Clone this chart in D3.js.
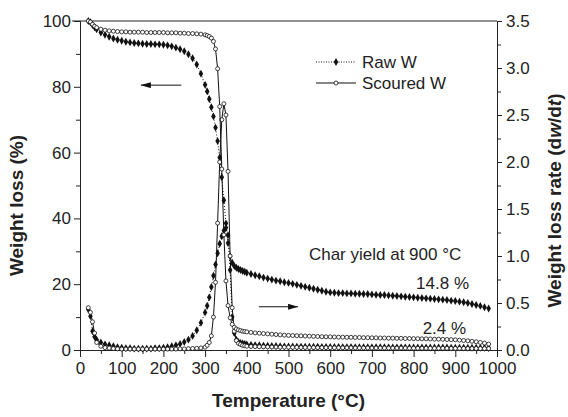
<!DOCTYPE html>
<html lang="en">
  <head>
    <meta charset="UTF-8" />
    <title>TGA - Raw vs Scoured W</title>
    <script src="https://d3js.org/d3.v7.min.js"></script>
    <style>
      body { margin: 0; background: #fff; }
      svg text { font-family: "Liberation Sans", Arial, Helvetica, sans-serif; fill: #222; }
      .axis path, .axis line { stroke: #222; stroke-width: 1; }
      .axis text { font-size: 17px; fill: #222; }
      .title { font-size: 19px; font-weight: bold; }
      .note { font-size: 17px; }
    </style>
  </head>
  <body>
    <svg id="chart" width="568" height="417"></svg>
    <script>
      // temperature grid (°C)
      const temps = [20,25,30,35,40,50,60,70,80,90,100,110,120,130,140,150,160,170,180,190,200,210,220,230,240,250,260,270,280,290,300,305,310,315,320,325,330,335,340,345,350,355,360,365,370,375,380,385,390,395,400,410,420,430,440,450,460,470,480,490,500,510,520,530,540,550,560,570,580,590,600,610,620,630,640,650,660,670,680,690,700,710,720,730,740,750,760,770,780,790,800,810,820,830,840,850,860,870,880,890,900,910,920,930,940,950,960,970,980];

      // weight (%) - left axis
      const rawWeight = [100,99.6,98.8,98.1,97.5,
        96.5,95.8,95.2,94.7,94.3,94.0,93.7,93.5,93.3,93.2,93.1,93.0,93.0,92.9,92.9,92.8,92.6,92.3,91.9,91.4,90.8,89.9,88.7,86.8,84.0,80.6,
        78.6,76.3,73.8,71.0,67.6,63.5,58.5,52.5,45.5,38.5,32.5,28.5,26.5,25.5,25.0,24.6,24.3,24.0,23.8,23.5,
        23.1,22.7,22.4,22.0,21.7,21.4,21.1,20.9,20.6,20.4,20.1,19.8,19.5,19.2,18.9,18.6,18.3,18.0,17.7,17.5,
        17.4,17.3,17.3,17.2,17.2,17.1,17.1,17.0,17.0,16.9,16.8,16.7,16.7,16.6,16.5,16.4,16.3,16.2,16.1,16.0,
        15.9,15.8,15.7,15.6,15.5,15.4,15.3,15.2,15.0,14.9,14.7,14.5,14.3,14.0,13.7,13.4,13.0,12.6];
      const scouredWeight = [100,99.7,99.0,98.4,98.0,
        97.5,97.2,97.0,96.9,96.8,96.7,96.7,96.6,96.6,96.6,96.6,96.5,96.5,96.5,96.5,96.5,96.4,96.4,96.4,96.3,96.3,96.2,96.2,96.1,96.0,95.8,
        95.6,95.3,94.8,93.8,91.5,85.5,74.0,55.0,35.0,21.0,13.5,9.8,7.8,6.9,6.4,6.1,5.9,5.7,5.6,5.5,
        5.35,5.2,5.1,5.0,4.9,4.8,4.7,4.6,4.5,4.45,4.4,4.35,4.3,4.25,4.2,4.15,4.1,4.05,4.0,4.0,
        3.95,3.9,3.9,3.85,3.85,3.8,3.8,3.75,3.75,3.7,3.7,3.65,3.65,3.6,3.6,3.55,3.55,3.5,3.5,3.45,
        3.45,3.4,3.4,3.35,3.3,3.3,3.25,3.2,3.15,3.1,3.0,2.9,2.8,2.65,2.5,2.3,2.1,1.8];

      // weight loss rate (dw/dt) - right axis
      const rawRate = [0.43,0.36,0.2,0.14,0.11,
        0.08,0.06,0.05,0.04,0.03,0.025,0.02,0.02,0.015,0.015,0.015,0.015,0.015,0.02,0.02,0.025,0.03,0.04,0.05,0.065,0.085,0.11,0.15,0.21,0.29,0.40,
        0.47,0.56,0.67,0.79,0.91,1.03,1.13,1.21,1.27,1.30,1.22,0.85,0.35,0.18,0.11,0.085,0.075,0.07,0.065,0.06,
        0.055,0.052,0.05,0.047,0.045,0.043,0.042,0.04,0.039,0.038,0.037,0.036,0.036,0.035,0.035,0.034,0.034,0.033,0.033,0.032,
        0.032,0.032,0.031,0.031,0.031,0.030,0.030,0.030,0.030,0.029,0.029,0.029,0.029,0.028,0.028,0.028,0.028,0.028,0.027,0.027,
        0.027,0.027,0.027,0.026,0.026,0.026,0.026,0.026,0.025,0.025,0.025,0.025,0.024,0.024,0.024,0.023,0.023,0.022];
      const scouredRate = [0.45,0.40,0.30,0.18,0.08,
        0.04,0.025,0.02,0.015,0.012,0.01,0.01,0.01,0.01,0.01,0.01,0.01,0.01,0.01,0.01,0.01,0.01,0.01,0.01,0.012,0.012,0.014,0.016,0.018,0.022,0.03,
        0.05,0.08,0.15,0.35,0.72,1.35,2.0,2.45,2.62,2.5,1.9,1.0,0.45,0.2,0.1,0.07,0.06,0.05,0.045,0.04,
        0.038,0.036,0.035,0.034,0.033,0.032,0.031,0.03,0.03,0.029,0.028,0.028,0.027,0.027,0.026,0.026,0.025,0.025,0.025,0.024,
        0.024,0.024,0.023,0.023,0.023,0.022,0.022,0.022,0.022,0.021,0.021,0.021,0.021,0.020,0.020,0.020,0.020,0.020,0.019,0.019,
        0.019,0.019,0.019,0.018,0.018,0.018,0.018,0.018,0.017,0.017,0.017,0.017,0.016,0.016,0.016,0.015,0.015,0.015];

      const xTicks = [0,100,200,300,400,500,600,700,800,900,1000];
      const yLeftTicks = [0,20,40,60,80,100];
      const yRightTicks = [0,0.5,1.0,1.5,2.0,2.5,3.0,3.5];

      const margin = { top: 21, right: 71, bottom: 67, left: 80 },
        width = 568 - margin.left - margin.right,
        height = 417 - margin.top - margin.bottom;

      const svg = d3
        .select("#chart")
        .append("g")
        .attr("transform", `translate(${margin.left},${margin.top})`);

      const x = d3.scaleLinear().domain([0, 1000]).range([0, width]);
      const yL = d3.scaleLinear().domain([0, 100]).range([height, 0]);
      const yR = d3.scaleLinear().domain([0, 3.5]).range([height, 0]);

      // frame top line
      svg.append("line")
        .attr("x1", -8).attr("x2", width).attr("y1", 0).attr("y2", 0)
        .attr("stroke", "#222");

      // minor ticks
      svg.append("g").attr("class", "axis minor")
        .attr("transform", `translate(0,${height})`)
        .call(d3.axisBottom(x).tickValues(d3.range(50, 1000, 100)).tickSize(4).tickFormat(""));
      svg.append("g").attr("class", "axis minor")
        .call(d3.axisLeft(yL).tickValues(d3.range(10, 100, 20)).tickSize(4).tickFormat(""));
      svg.append("g").attr("class", "axis minor")
        .attr("transform", `translate(${width},0)`)
        .call(d3.axisRight(yR).tickValues([0.25,0.75,1.25,1.75,2.25,2.75,3.25]).tickSize(4).tickFormat(""));

      // main axes
      svg.append("g").attr("class", "axis")
        .attr("transform", `translate(0,${height})`)
        .call(d3.axisBottom(x).tickValues(xTicks).tickSize(7).tickSizeOuter(0).tickPadding(5)
          .tickFormat(d3.format("d")));
      svg.append("g").attr("class", "axis")
        .call(d3.axisLeft(yL).tickValues(yLeftTicks).tickSize(6).tickSizeOuter(0).tickPadding(3));
      svg.append("g").attr("class", "axis")
        .attr("transform", `translate(${width},0)`)
        .call(d3.axisRight(yR).tickValues(yRightTicks).tickSize(5).tickSizeOuter(0).tickPadding(4)
          .tickFormat(d3.format(".1f")));

      // axis titles
      svg.append("text").attr("class", "title")
        .attr("x", width / 2).attr("y", height + 57)
        .attr("text-anchor", "middle")
        .text("Temperature (°C)");
      svg.append("text").attr("class", "title")
        .attr("transform", `translate(${-57},${height / 2 + 20}) rotate(-90)`)
        .attr("text-anchor", "middle")
        .text("Weight loss (%)");
      const rt = svg.append("text").attr("class", "title")
        .attr("transform", `translate(${width + 64},${height / 2 + 15}) rotate(-90)`)
        .attr("text-anchor", "middle");
      rt.append("tspan").text("Weight loss rate (d");
      rt.append("tspan").attr("font-style", "italic").text("w");
      rt.append("tspan").text("/d");
      rt.append("tspan").attr("font-style", "italic").text("t");
      rt.append("tspan").text(")");

      const rows = temps.map((t, i) => ({
        t: t,
        rw: rawWeight[i],
        sw: scouredWeight[i],
        rr: rawRate[i],
        sr: scouredRate[i]
      }));

      const series = [
        { key: "rr", y: yR, raw: true },
        { key: "rw", y: yL, raw: true },
        { key: "sr", y: yR, raw: false },
        { key: "sw", y: yL, raw: false }
      ];

      const diamond = d3.symbol().type(d3.symbolDiamond).size(18);

      series.forEach((s) => {
        const line = d3.line()
          .x((d) => x(d.t))
          .y((d) => s.y(d[s.key]));
        svg.append("path")
          .datum(rows)
          .attr("fill", "none")
          .attr("stroke", "#111")
          .attr("stroke-width", 1)
          .attr("stroke-dasharray", s.raw ? "1,2" : null)
          .attr("d", line);

        if (s.raw) {
          svg.append("g").selectAll("path")
            .data(rows)
            .enter()
            .append("path")
            .attr("transform", (d) => `translate(${x(d.t)},${s.y(d[s.key])})`)
            .attr("d", diamond)
            .attr("fill", "#111");
        } else {
          svg.append("g").selectAll("circle")
            .data(rows)
            .enter()
            .append("circle")
            .attr("cx", (d) => x(d.t))
            .attr("cy", (d) => s.y(d[s.key]))
            .attr("r", 2)
            .attr("fill", "#fff")
            .attr("stroke", "#111")
            .attr("stroke-width", 0.8);
        }
      });

      // arrows
      const defs = d3.select("#chart").append("defs");
      defs.append("marker")
        .attr("id", "head")
        .attr("viewBox", "0 0 10 6")
        .attr("refX", 10).attr("refY", 3)
        .attr("markerWidth", 10).attr("markerHeight", 6)
        .attr("markerUnits", "userSpaceOnUse")
        .attr("orient", "auto")
        .append("path").attr("d", "M0,0 L10,3 L0,6 Z").attr("fill", "#111");

      svg.append("line")
        .attr("x1", x(243)).attr("y1", yL(80.5))
        .attr("x2", x(146)).attr("y2", yL(80.5))
        .attr("stroke", "#111").attr("marker-end", "url(#head)");
      svg.append("line")
        .attr("x1", x(429)).attr("y1", yR(0.46))
        .attr("x2", x(523)).attr("y2", yR(0.46))
        .attr("stroke", "#111").attr("marker-end", "url(#head)");

      // annotations
      svg.append("text").attr("class", "note")
        .attr("x", x(549)).attr("y", yL(27.4))
        .text("Char yield at 900 °C");
      svg.append("text").attr("class", "note")
        .attr("x", x(933)).attr("y", yL(18.5))
        .attr("text-anchor", "end")
        .text("14.8 %");
      svg.append("text").attr("class", "note")
        .attr("x", x(926)).attr("y", yL(4.9))
        .attr("text-anchor", "end")
        .text("2.4 %");

      // legend
      const legend = svg.append("g").attr("transform", "translate(236,41)");
      const legendItems = [
        { name: "Raw W", raw: true },
        { name: "Scoured W", raw: false }
      ];
      legendItems.forEach((item, i) => {
        const g = legend.append("g").attr("transform", `translate(0,${i * 21})`);
        g.append("line")
          .attr("x1", 0).attr("x2", 40)
          .attr("stroke", "#111")
          .attr("stroke-dasharray", item.raw ? "1,1.5" : null);
        if (item.raw) {
          g.append("path").attr("transform", "translate(20,0)").attr("d", diamond).attr("fill", "#111");
        } else {
          g.append("circle").attr("cx", 20).attr("r", 2).attr("fill", "#fff")
            .attr("stroke", "#111").attr("stroke-width", 0.8);
        }
        g.append("text").attr("class", "note")
          .attr("x", 46).attr("y", 6)
          .text(item.name);
      });
    </script>
  </body>
</html>
